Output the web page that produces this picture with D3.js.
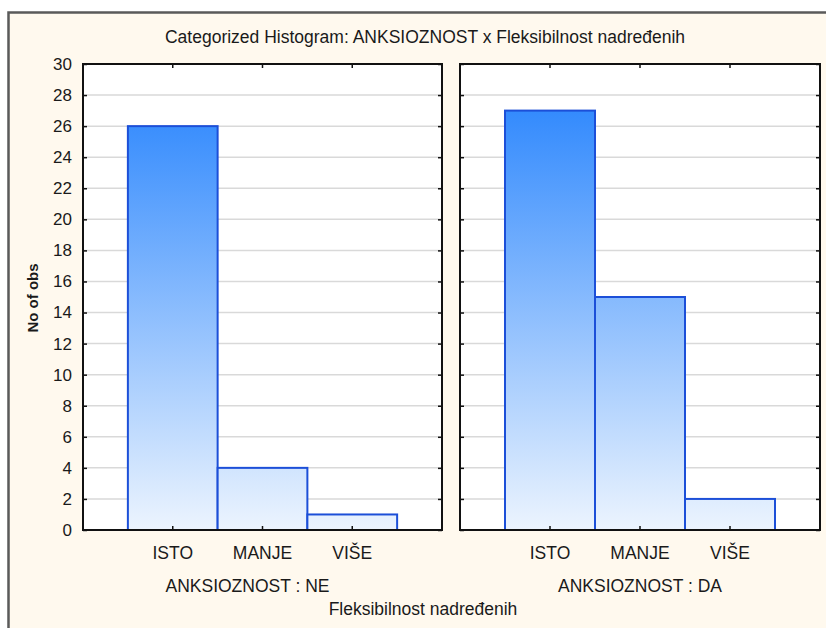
<!DOCTYPE html>
<html>
<head>
<meta charset="utf-8">
<script src="https://cdn.jsdelivr.net/npm/d3@7"></script>
<style>
  body { margin: 0; background: #ffffff; }
  svg text { font-family: "Liberation Sans", Arial, sans-serif; fill: #1a1a1a; }
</style>
</head>
<body>
<div id="chart"></div>
<script>
// data
var categories = ["ISTO", "MANJE", "VIŠE"];
var countsNE = [26, 4, 1];
var countsDA = [27, 15, 2];
var panelLabels = ["ANKSIOZNOST : NE", "ANKSIOZNOST : DA"];
var yTicks = [0, 2, 4, 6, 8, 10, 12, 14, 16, 18, 20, 22, 24, 26, 28, 30];
var chartTitle = "Categorized Histogram: ANKSIOZNOST  x Fleksibilnost nadređenih";
var xTitle = "Fleksibilnost nadređenih";
var yTitle = "No of obs";

var W = 826, H = 628;
var plotTop = 64, plotBottom = 530;
var panels = [
  {x0: 83, x1: 442, counts: countsNE, label: panelLabels[0], labelShift: -15},
  {x0: 460, x1: 820, counts: countsDA, label: panelLabels[1], labelShift: 0}
];

var svg = d3.select("#chart").append("svg")
  .attr("width", W).attr("height", H);

// outer frame
svg.append("rect").attr("width", W).attr("height", H).attr("fill", "#ffffff");
svg.append("rect")
  .attr("x", 8.5).attr("y", 12.5)
  .attr("width", W + 20).attr("height", H + 20)
  .attr("fill", "#fff9ee")
  .attr("stroke", "#5a5a5a").attr("stroke-width", 2.5);

// vertical gradient over the whole plot height
var defs = svg.append("defs");
var grad = defs.append("linearGradient")
  .attr("id", "barFill")
  .attr("gradientUnits", "userSpaceOnUse")
  .attr("x1", 0).attr("x2", 0).attr("y1", plotTop).attr("y2", plotBottom);
grad.append("stop").attr("offset", "0%").attr("stop-color", "#1f7ffd");
grad.append("stop").attr("offset", "100%").attr("stop-color", "#ecf4fe");

var y = d3.scaleLinear().domain([0, 30]).range([plotBottom, plotTop]);

svg.append("text")
  .attr("x", 425).attr("y", 43)
  .attr("text-anchor", "middle")
  .style("font-size", "17.5px")
  .text(chartTitle);

panels.forEach(function(p, i) {
  var x = d3.scaleBand().domain(categories)
    .range([p.x0, p.x1]).paddingInner(0).paddingOuter(0.5);

  var g = svg.append("g");

  g.append("rect")
    .attr("x", p.x0).attr("y", plotTop)
    .attr("width", p.x1 - p.x0).attr("height", plotBottom - plotTop)
    .attr("fill", "#ffffff");

  // gridlines
  g.selectAll(".grid")
    .data(yTicks.filter(function(t) { return t > 0 && t < 30; }))
    .enter().append("line")
    .attr("x1", p.x0).attr("x2", p.x1)
    .attr("y1", function(d) { return y(d); })
    .attr("y2", function(d) { return y(d); })
    .attr("stroke", "#d9d9d9").attr("stroke-width", 1.5);

  // bars
  g.selectAll(".bar")
    .data(p.counts)
    .enter().append("rect")
    .attr("x", function(d, j) { return x(categories[j]); })
    .attr("y", function(d) { return y(d); })
    .attr("width", x.bandwidth())
    .attr("height", function(d) { return y(0) - y(d); })
    .attr("fill", "url(#barFill)")
    .attr("stroke", "#1c4fd8").attr("stroke-width", 2);

  // axes with inward ticks
  var left = g.append("g")
    .attr("transform", "translate(" + p.x0 + ",0)")
    .call(d3.axisLeft(y).tickValues(yTicks).tickSizeInner(-4).tickSizeOuter(0).tickPadding(11));
  var right = g.append("g")
    .attr("transform", "translate(" + p.x1 + ",0)")
    .call(d3.axisRight(y).tickValues(yTicks).tickSizeInner(-4).tickSizeOuter(0));
  right.selectAll("text").remove();
  var bot = g.append("g")
    .attr("transform", "translate(0," + plotBottom + ")")
    .call(d3.axisBottom(x).tickSizeInner(-4).tickSizeOuter(0).tickPadding(17));
  var topAx = g.append("g")
    .attr("transform", "translate(0," + plotTop + ")")
    .call(d3.axisTop(x).tickSizeInner(-4).tickSizeOuter(0));
  topAx.selectAll("text").remove();

  [left, right, bot, topAx].forEach(function(a) {
    a.select(".domain").remove();
    a.selectAll("line").attr("stroke", "#111").attr("stroke-width", 1.5);
  });
  if (i > 0) left.selectAll("text").remove();
  left.selectAll("text").style("font-size", "17px").attr("fill", "#1a1a1a");
  bot.selectAll("text").style("font-size", "17.5px").attr("fill", "#1a1a1a");

  g.append("rect")
    .attr("x", p.x0).attr("y", plotTop)
    .attr("width", p.x1 - p.x0).attr("height", plotBottom - plotTop)
    .attr("fill", "none").attr("stroke", "#111").attr("stroke-width", 2);

  g.append("text")
    .attr("x", (p.x0 + p.x1) / 2 + p.labelShift).attr("y", 592)
    .attr("text-anchor", "middle")
    .style("font-size", "17.5px")
    .text(p.label);
});

svg.append("text")
  .attr("x", 423).attr("y", 615)
  .attr("text-anchor", "middle")
  .style("font-size", "17.5px")
  .text(xTitle);

svg.append("text")
  .attr("transform", "translate(38,298) rotate(-90)")
  .attr("text-anchor", "middle")
  .style("font-size", "15px").style("font-weight", "bold")
  .text(yTitle);
</script>
</body>
</html>
